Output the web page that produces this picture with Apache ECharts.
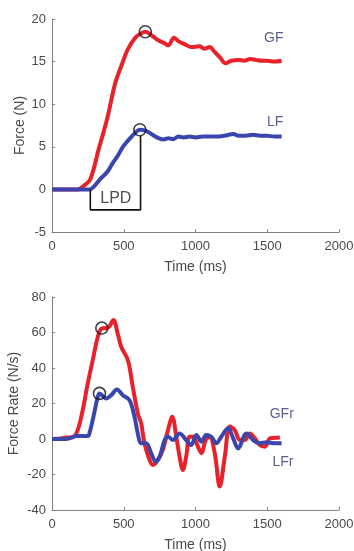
<!DOCTYPE html>
<html>
<head>
<meta charset="utf-8">
<script src="https://cdn.jsdelivr.net/npm/echarts@6/dist/echarts.min.js"></script>
<style>
html,body{margin:0;padding:0;background:#fff;}
#chart{width:354px;height:551px;}
</style>
</head>
<body>
<div id="chart"></div>
<script>
// ---------- Data ----------
// Top panel: Force (N)
var gfTime   = [0, 100, 180, 220, 267, 325, 383, 441, 490, 527, 580, 620, 650, 700, 740, 780, 810, 850, 880, 930, 970, 1030, 1060, 1100, 1130, 1170, 1210, 1250, 1300, 1340, 1380, 1420, 1460, 1500, 1550, 1600];
var gfValues = [0, 0, 0, 0.4, 1.2, 4.7, 8.2, 12.5, 14.8, 16.4, 17.8, 18.3, 18.5, 18.0, 17.5, 17.2, 16.9, 17.8, 17.4, 17.0, 16.7, 16.8, 16.5, 16.7, 16.2, 15.5, 14.8, 15.1, 15.2, 15.1, 15.3, 15.2, 15.1, 15.1, 15.0, 15.1];

var lfTime   = [0, 100, 200, 262, 290, 340, 383, 420, 460, 499, 555, 590, 612, 650, 684, 720, 777, 810, 847, 880, 917, 960, 1000, 1050, 1100, 1150, 1200, 1265, 1300, 1350, 1400, 1450, 1500, 1550, 1600];
var lfValues = [0, 0, 0, 0, 0.3, 1.3, 2.0, 3.0, 4.0, 5.1, 6.2, 6.8, 7.0, 6.9, 6.6, 6.2, 5.85, 6.0, 5.9, 6.2, 6.1, 6.2, 6.1, 6.2, 6.2, 6.2, 6.3, 6.5, 6.3, 6.3, 6.4, 6.3, 6.3, 6.2, 6.2];

var forcePeakTime   = [650, 612];
var forcePeakValues = [18.5, 7.0];

var lpdTime   = [267, 267, 617, 617];
var lpdValues = [0, -2.4, -2.4, 6.3];

var topLabelNames  = ['GF', 'LF'];
var topLabelTime   = [1545, 1555];
var topLabelValues = [17.8, 7.95];
var lpdLabel = {name: 'LPD', time: 445, value: -1.1};

// Bottom panel: Force Rate (N/s)
var gfrTime   = [0, 60, 100, 144, 179, 214, 249, 284, 319, 347, 377, 400, 428, 459, 482, 529, 563, 598, 621, 644, 680, 703, 738, 773, 808, 838, 866, 889, 912, 935, 958, 982, 1017, 1041, 1071, 1099, 1134, 1169, 1204, 1239, 1274, 1308, 1343, 1378, 1413, 1448, 1483, 1518, 1541, 1588];
var gfrValues = [0, 0.3, 0.8, 1, 5, 16.3, 31.3, 44.4, 57.5, 62.3, 62.5, 63.5, 67, 59, 52, 44.4, 29.4, 14.4, 9, -2.3, -11.8, -14.6, -11.8, -6, 5, 12.5, 1.3, -10, -17.4, -10, 1.3, 1.3, -4.3, -8, -0.6, 1.3, -8, -26.8, -10, 7, 5, -0.6, -0.6, 3.1, 0.5, -3.4, -4.3, 0.4, 0.6, 0.9];

var lfrTime   = [0, 100, 171, 250, 261, 290, 319, 331, 377, 412, 452, 494, 540, 575, 598, 621, 656, 691, 722, 750, 785, 808, 843, 889, 935, 970, 1006, 1041, 1075, 1110, 1145, 1180, 1227, 1262, 1297, 1355, 1402, 1448, 1495, 1550, 1600];
var lfrValues = [0, 0, 1.7, 1.7, 3.2, 13, 23.8, 25.7, 22.8, 24.6, 27.9, 24.7, 21.9, 12.5, 3.1, -2.4, -2.4, -8, -12.7, -10, -0.6, 1.3, -0.6, 3.1, -0.6, -3.4, 2.2, -1.5, 2.2, 1.3, -2.4, 1.3, 6, 0.5, -5.3, 3.1, -0.6, -2.4, -1.8, -2.4, -2.4];

var ratePeakTime   = [347, 331];
var ratePeakValues = [62.5, 25.7];

var bottomLabelNames  = ['GFr', 'LFr'];
var bottomLabelTime   = [1601, 1610];
var bottomLabelValues = [14, -13.2];

// Axis ticks
var timeTicks  = {min: 0, max: 2000, interval: 500};
var forceTicks = {min: -5, max: 20, interval: 5};
var rateTicks  = {min: -40, max: 80, interval: 20};

// ---------- Helpers ----------
function zip(xs, ys) { return xs.map(function (x, i) { return [x, ys[i]]; }); }
function labelData(names, xs, ys) {
  return names.map(function (n, i) { return {name: n, value: [xs[i], ys[i]]}; });
}

var RED = '#e8222a', BLUE = '#3a46ad', AXIS = '#7f7f7f', TXT = '#4a4a4a', NAVY = '#2c3670';
var FONT = '"Liberation Sans", Arial, sans-serif';

function xAxisCfg(gridIndex) {
  return {
    type: 'value', gridIndex: gridIndex,
    min: timeTicks.min, max: timeTicks.max, interval: timeTicks.interval,
    name: 'Time (ms)', nameLocation: 'middle', nameGap: 28, nameMoveOverlap: false,
    nameTextStyle: {fontSize: 14, color: TXT, fontFamily: FONT},
    axisLine: {show: true, onZero: false, lineStyle: {color: AXIS, width: 1}},
    axisTick: {show: true, inside: true, length: 3, lineStyle: {color: AXIS}},
    axisLabel: {fontSize: 13, color: TXT, fontFamily: FONT, margin: 8,
      formatter: function (v) { return String(v); }},
    splitLine: {show: false}
  };
}
function yAxisCfg(gridIndex, ticks, name, gap) {
  return {
    type: 'value', gridIndex: gridIndex,
    min: ticks.min, max: ticks.max, interval: ticks.interval,
    name: name, nameLocation: 'middle', nameGap: gap, nameRotate: 90, nameMoveOverlap: false,
    nameTextStyle: {fontSize: 14, color: TXT, fontFamily: FONT},
    axisLine: {show: true, onZero: false, lineStyle: {color: AXIS, width: 1}},
    axisTick: {show: true, inside: true, length: 3, lineStyle: {color: AXIS}},
    axisLabel: {fontSize: 13, color: TXT, fontFamily: FONT, margin: 6,
      formatter: function (v) { return String(v); }},
    splitLine: {show: false}
  };
}
function lineSeries(xi, yi, xs, ys, color) {
  return {
    type: 'line', xAxisIndex: xi, yAxisIndex: yi, data: zip(xs, ys),
    showSymbol: false, smooth: 0.35, lineStyle: {color: color, width: 4},
    animation: false, silent: true
  };
}
function circleSeries(xi, yi, xs, ys) {
  return {
    type: 'scatter', xAxisIndex: xi, yAxisIndex: yi, data: zip(xs, ys),
    symbol: 'circle', symbolSize: 12, z: 5,
    itemStyle: {color: 'rgba(0,0,0,0)', borderColor: '#111', borderWidth: 1.6},
    animation: false, silent: true
  };
}
function textSeries(xi, yi, data, size, color) {
  return {
    type: 'scatter', xAxisIndex: xi, yAxisIndex: yi, data: data,
    symbolSize: 0, z: 6,
    label: {show: true, position: 'inside', formatter: '{b}', fontSize: size, color: color, fontFamily: FONT},
    animation: false, silent: true
  };
}

var chart = echarts.init(document.getElementById('chart'), null, {renderer: 'canvas'});
chart.setOption({
  backgroundColor: '#ffffff',
  animation: false,
  grid: [
    {left: 52, top: 19, width: 287, height: 213, containLabel: false, outerBoundsMode: 'none'},
    {left: 52, top: 297, width: 287, height: 213, containLabel: false, outerBoundsMode: 'none'}
  ],
  xAxis: [xAxisCfg(0), xAxisCfg(1)],
  yAxis: [
    yAxisCfg(0, forceTicks, 'Force (N)', 25),
    yAxisCfg(1, rateTicks, 'Force Rate (N/s)', 31)
  ],
  series: [
    lineSeries(0, 0, gfTime, gfValues, RED),
    lineSeries(0, 0, lfTime, lfValues, BLUE),
    {
      type: 'line', xAxisIndex: 0, yAxisIndex: 0, data: zip(lpdTime, lpdValues),
      showSymbol: false, lineStyle: {color: '#111', width: 1.6}, z: 4,
      animation: false, silent: true
    },
    circleSeries(0, 0, forcePeakTime, forcePeakValues),
    textSeries(0, 0, labelData(topLabelNames, topLabelTime, topLabelValues), 14, NAVY),
    textSeries(0, 0, [{name: lpdLabel.name, value: [lpdLabel.time, lpdLabel.value]}], 16, '#222'),

    lineSeries(1, 1, gfrTime, gfrValues, RED),
    lineSeries(1, 1, lfrTime, lfrValues, BLUE),
    circleSeries(1, 1, ratePeakTime, ratePeakValues),
    textSeries(1, 1, labelData(bottomLabelNames, bottomLabelTime, bottomLabelValues), 14, NAVY)
  ]
});
</script>
</body>
</html>
